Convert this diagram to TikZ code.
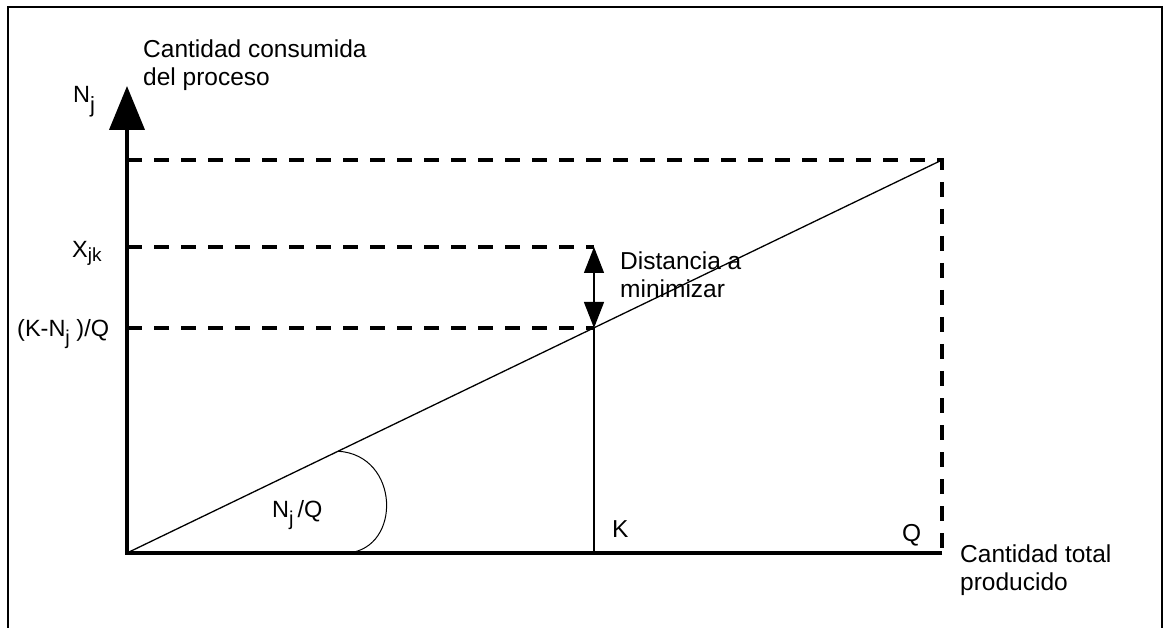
\documentclass[tikz,border=0pt]{standalone}
\usepackage{fontspec}
\setmainfont{Liberation Sans}
\usetikzlibrary{arrows.meta, positioning, calc}

% lowered index as in the original labels
\newcommand{\idx}[3][7pt]{\raisebox{-#1}{\fontsize{#2}{#2}\selectfont #3}}

\begin{document}
\begin{tikzpicture}[
    x=1pt, y=-1pt,
    axis/.style={line width=4pt},
    guide/.style={line width=4pt, dash pattern=on 15pt off 12pt},
    thinline/.style={line width=1.3pt},
    big/.style={-{Triangle[width=35pt,length=44pt]}},
    small/.style={{Triangle[width=20pt,length=26pt]}-{Triangle[width=20pt,length=26pt]}},
    lbl/.style={inner sep=0pt, font=\fontsize{24.5}{27.5}\selectfont},
    side/.style={inner sep=0pt, font=\fontsize{23.5}{27}\selectfont, anchor=base west},
    txt/.style={lbl, align=left, anchor=north west}
]
\useasboundingbox (0,0) rectangle (1165,628);

% === FRAME ===
\draw[line width=2.5pt] (8,640) -- (8,7) -- (1162,7) -- (1162,640);

% === POINTS ===
\coordinate (O) at (127,553);
\coordinate (tip) at (127,86);
\coordinate (Qx) at (942,553);
\coordinate (QN) at (942,160);
\coordinate (Ny) at (127,160);
\coordinate (Xy) at (127,247);
\coordinate (Ky) at (127,328);
\coordinate (Kx) at (594,553);
\coordinate (KX) at (594,247);
\coordinate (KP) at (594,328);
\coordinate (A1) at ($(O)!0.259!(QN)$);
\coordinate (A2) at (348,553);

% === AXES ===
\draw[axis, big] (Qx) -- (O) -- (tip);

% === DASHED GUIDES ===
\draw[guide] (Ny) -- (QN) -- (Qx);
\draw[guide] (Xy) -- (KX);
\draw[guide] (Ky) -- (KP);

% === LINE, K AND DISTANCE ===
\draw[thinline] (O) -- (QN);
\draw[thinline] (Kx) -- (KP);
\draw[thinline, small] (KX) -- (KP);
\draw[line width=1pt] (A1) .. controls (400,455) and (402,548) .. (A2);

% === LABELS ===
\node[side] (Nj) at (73,103) {N\idx[10pt]{22}{j}};
\node[side] (Xjk) at (72,258) {X\idx[4pt]{19}{jk}};
\node[side] (KNQ) at (17,337) {(K-N\idx[8pt]{20}{j} )/Q};
\node[txt] (ylab) at (143,40) {Cantidad consumida\\del proceso};
\node[txt] (xlab) at (960,545) {Cantidad total\\producido};
\node[txt, below right=5pt and 26pt of KX] (dist) {Distancia a\\minimizar};
\node[lbl, anchor=base west] (K) at (612,537) {K};
\node[lbl, anchor=base west] (Q) at (902,541) {Q};
\node[side] (slope) at (272,517) {N\idx[8pt]{20}{j}\,/Q};

\end{tikzpicture}
\end{document}
